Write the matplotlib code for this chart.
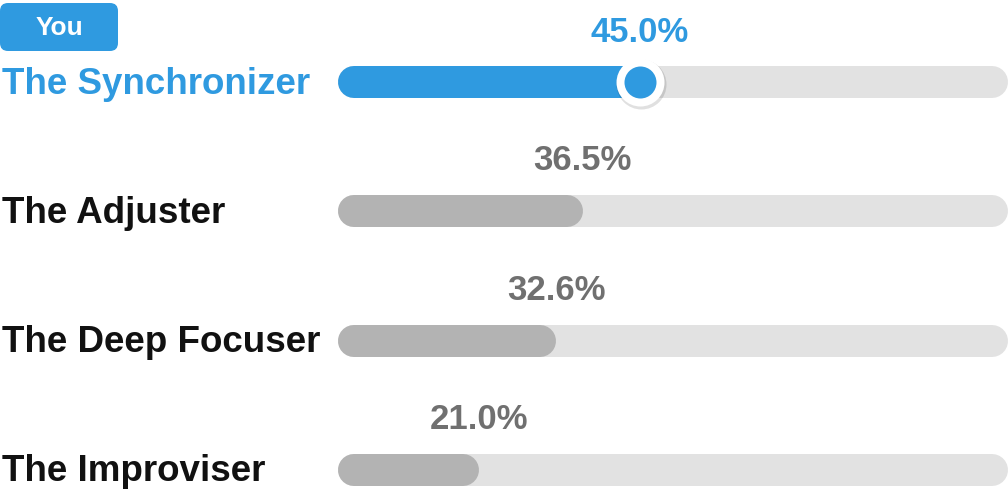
import matplotlib
matplotlib.use('Agg')
import matplotlib.pyplot as plt
from matplotlib.patches import FancyBboxPatch
from matplotlib.transforms import IdentityTransform

categories = ['The Synchronizer', 'The Adjuster', 'The Deep Focuser', 'The Improviser']
values = [45.0, 36.5, 32.6, 21.0]
highlight = 0  # the "You" row

blue = '#2f9ae0'
gray_fill = '#b3b3b3'
track = '#e2e2e2'
gray_text = '#707070'

plt.rcParams['font.family'] = ['Liberation Sans', 'DejaVu Sans']

px_x = 6.7    # pixels per percent
px_y = 129.0  # pixels per row
y0 = 82.5     # pixel centre of first row

fig = plt.figure(figsize=(10.08, 4.94), dpi=100)
ax = fig.add_axes([0, 0, 1, 1])
ax.set_xlim(-338 / px_x, 100)
ax.set_ylim(3 + (494 - y0 - 3 * px_y) / px_y, -y0 / px_y)
ax.axis('off')

lw = 32 * 72 / 100  # bar thickness in points
cap = 16 / px_x     # round cap extent in data units

for i, (name, v) in enumerate(zip(categories, values)):
    ax.plot([cap, 100 - cap], [i, i], color=track, lw=lw, solid_capstyle='round', zorder=1)
    col = blue if i == highlight else gray_fill
    ax.plot([cap, v - cap], [i, i], color=col, lw=lw, solid_capstyle='round', zorder=2)
    tcol = blue if i == highlight else '#111111'
    ax.text(-336 / px_x, i + 11.5 / px_y, name, fontsize=26.5, fontweight='bold',
            color=tcol, ha='left', va='baseline')
    pcol = blue if i == highlight else gray_text
    ax.text(v, i - 41 / px_y, f'{v:.1f}%', fontsize=25, fontweight='bold',
            color=pcol, ha='center', va='baseline')
    if i == highlight:
        ax.plot(v + 0.15, i + 0.015, 'o', ms=50 * 72 / 100, color='#000000', alpha=0.12, mew=0, zorder=3)
        ax.plot(v, i, 'o', ms=48 * 72 / 100, color='white', mew=0, zorder=4)
        ax.plot(v, i, 'o', ms=32 * 72 / 100, color=blue, mew=0, zorder=5)

# "You" badge
badge = FancyBboxPatch((0, 494 - 51), 118, 48, boxstyle='round,pad=0,rounding_size=8',
                       transform=IdentityTransform(), facecolor=blue, edgecolor='none')
fig.add_artist(badge)
fig.text(59 / 1008, 1 - 35 / 494, 'You', fontsize=19, fontweight='bold',
         color='white', ha='center', va='baseline')

fig.savefig('out.png', dpi=100)
